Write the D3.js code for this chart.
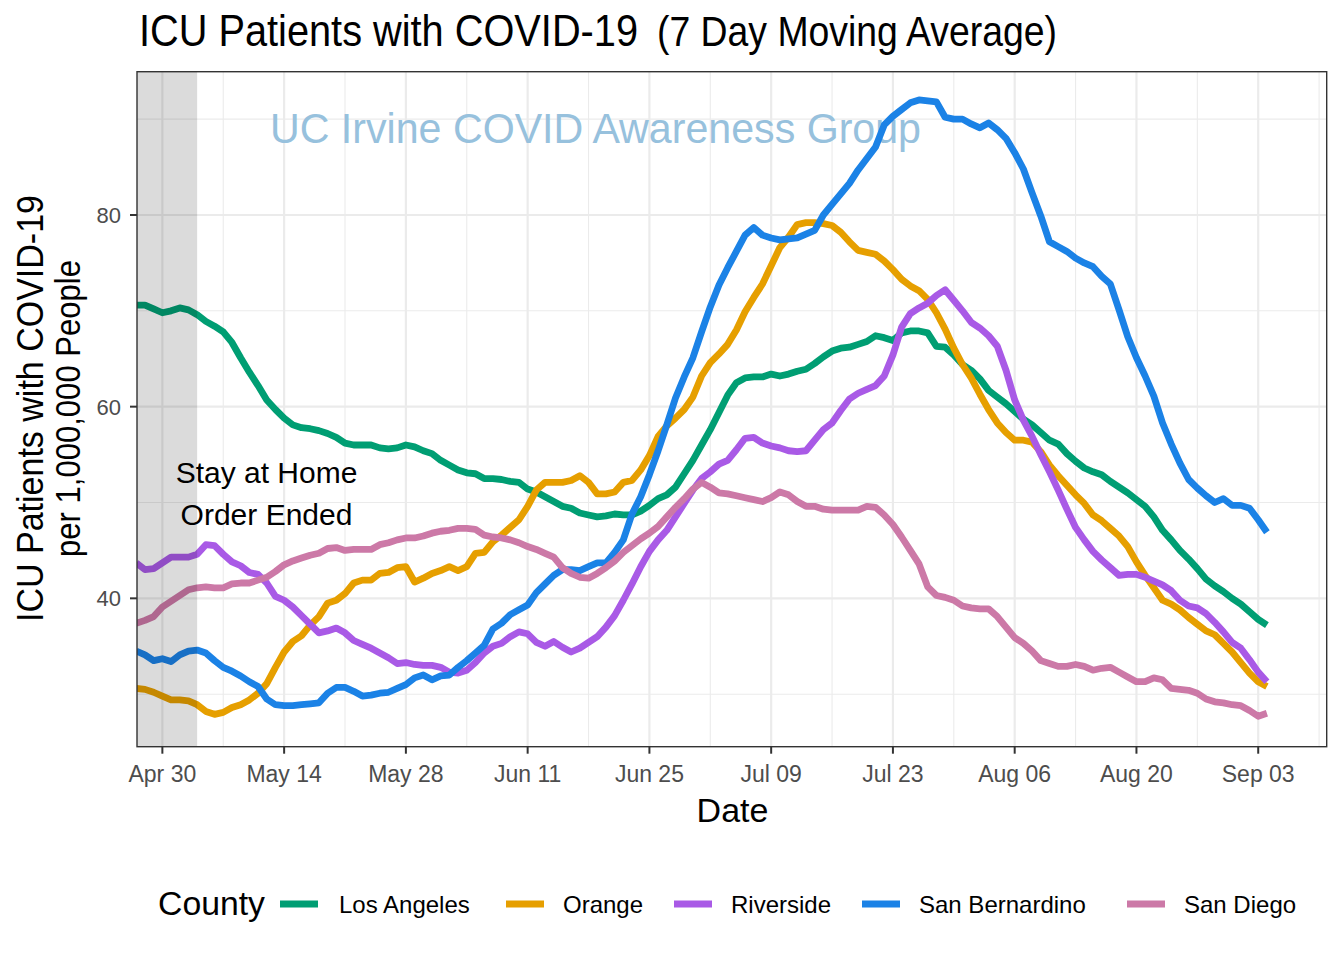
<!DOCTYPE html>
<html>
<head>
<meta charset="utf-8">
<script src="https://cdn.jsdelivr.net/npm/d3@7"></script>
<style>
  body { margin: 0; background: #fff; }
  text { font-family: "Liberation Sans", Arial, sans-serif; }
</style>
</head>
<body>
<div id="chart_wrapper"></div>
<script>

// first day of data, one value per day after that
const startDay = "2020-04-27"
const orderEnded = "2020-05-04"

const counties = ["Los Angeles", "Orange", "Riverside", "San Bernardino", "San Diego"]
const countyColors = ["#009E73", "#E69F00", "#A95AE6", "#1B82E6", "#CC79A7"]

const losAngeles = [70.6,70.6,70.2,69.8,70.0,70.3,70.1,69.6,68.9,68.4,67.8,66.7,65.1,63.6,62.2,60.7,59.7,58.8,58.1,57.8,
  57.7,57.5,57.2,56.8,56.2,56.0,56.0,56.0,55.7,55.6,55.7,56.0,55.8,55.4,55.1,54.4,53.9,53.4,53.1,53.0,
  52.5,52.5,52.4,52.2,52.1,51.4,51.1,50.6,50.1,49.6,49.4,48.9,48.7,48.5,48.6,48.8,48.7,48.7,49.1,49.7,
  50.4,50.8,51.6,53.0,54.4,56.0,57.6,59.4,61.2,62.5,63.0,63.1,63.1,63.4,63.2,63.4,63.7,63.9,64.5,65.2,
  65.8,66.1,66.2,66.5,66.8,67.4,67.2,66.9,67.7,67.9,67.9,67.7,66.3,66.2,65.4,64.4,63.8,62.9,61.7,61.0,
  60.3,59.5,58.7,58.1,57.3,56.5,56.1,55.1,54.3,53.6,53.2,52.9,52.2,51.6,51.0,50.3,49.6,48.5,47.1,46.1,
  45.0,44.1,43.1,42.0,41.3,40.7,40.0,39.4,38.6,37.8,37.2]

const orange = [30.6,30.5,30.2,29.8,29.4,29.4,29.3,28.9,28.2,27.9,28.1,28.6,28.9,29.4,30.1,31.1,32.8,34.4,35.5,36.1,
  37.2,38.1,39.5,39.8,40.5,41.6,41.9,41.9,42.6,42.7,43.2,43.3,41.7,42.1,42.6,42.9,43.3,42.9,43.3,44.7,
  44.8,45.9,46.6,47.4,48.2,49.6,51.3,52.1,52.1,52.1,52.3,52.8,52.1,50.9,50.9,51.1,52.1,52.3,53.4,54.9,
  56.9,58.0,58.8,59.7,61.0,63.2,64.6,65.5,66.5,68.0,69.9,71.4,72.8,74.7,76.6,77.7,79.0,79.2,79.2,79.1,
  78.9,78.2,77.2,76.3,76.1,75.9,75.2,74.3,73.3,72.6,72.1,71.2,69.8,68.1,66.1,64.4,63.0,61.3,59.7,58.3,
  57.3,56.5,56.5,56.3,55.3,53.9,52.8,51.8,50.8,49.9,48.7,48.1,47.3,46.5,45.4,43.8,42.4,41.1,39.8,39.4,
  38.8,38.0,37.3,36.6,36.2,35.3,34.4,33.3,32.2,31.3,30.8]

const riverside = [43.7,43.0,43.1,43.7,44.3,44.3,44.3,44.6,45.6,45.5,44.6,43.8,43.4,42.7,42.5,41.6,40.2,39.8,39.1,38.2,
  37.3,36.4,36.6,36.9,36.4,35.6,35.2,34.8,34.3,33.8,33.2,33.3,33.1,33.0,33.0,32.8,32.3,32.2,32.5,33.3,
  34.3,35.0,35.3,36.0,36.5,36.3,35.4,35.0,35.5,34.9,34.4,34.8,35.4,36.0,37.0,38.2,39.8,41.5,43.3,44.9,
  46.1,47.1,48.5,49.9,51.3,52.5,53.2,54.0,54.4,55.5,56.7,56.8,56.2,55.9,55.7,55.4,55.3,55.4,56.5,57.6,
  58.3,59.6,60.8,61.4,61.8,62.2,63.2,65.4,68.3,69.7,70.3,70.8,71.6,72.2,71.1,70.0,68.8,68.2,67.4,66.3,
  63.8,60.7,58.6,56.9,55.0,53.2,51.3,49.3,47.4,46.1,44.9,44.0,43.2,42.4,42.5,42.5,42.2,41.8,41.4,40.8,
  39.8,39.2,39.0,38.4,37.5,36.5,35.4,34.8,33.6,32.3,31.3]

const sanBernardino = [34.5,34.1,33.5,33.7,33.4,34.1,34.5,34.6,34.3,33.5,32.8,32.4,31.9,31.3,30.8,29.5,28.9,28.8,28.8,28.9,
  29.0,29.1,30.1,30.7,30.7,30.3,29.8,29.9,30.1,30.2,30.6,31.0,31.7,32.0,31.5,31.9,32.0,32.8,33.5,34.3,
  35.1,36.8,37.4,38.3,38.8,39.3,40.6,41.5,42.4,43.0,43.0,42.9,43.3,43.7,43.7,44.8,46.1,48.8,50.6,52.9,
  55.4,58.1,60.9,63.1,65.1,67.8,70.4,72.7,74.5,76.2,77.9,78.7,77.9,77.6,77.4,77.5,77.6,78.0,78.4,80.0,
  81.1,82.2,83.3,84.7,85.9,87.1,89.4,90.3,91.0,91.7,92.0,91.9,91.8,90.2,90.0,90.0,89.5,89.1,89.6,88.9,
  88.0,86.5,84.8,82.3,79.9,77.2,76.7,76.2,75.5,75.0,74.6,73.6,72.8,70.1,67.3,65.1,63.2,61.1,58.3,56.1,
  54.1,52.4,51.5,50.7,50.0,50.4,49.7,49.7,49.4,48.2,46.9]

const sanDiego = [37.4,37.7,38.1,39.1,39.7,40.3,40.9,41.1,41.2,41.1,41.1,41.5,41.6,41.6,41.9,42.2,42.8,43.5,43.9,44.2,
  44.5,44.7,45.2,45.3,45.0,45.1,45.1,45.1,45.6,45.8,46.1,46.3,46.3,46.5,46.8,47.0,47.1,47.3,47.3,47.2,
  46.6,46.4,46.3,46.1,45.8,45.4,45.1,44.7,44.3,43.2,42.6,42.2,42.1,42.6,43.2,43.9,44.8,45.5,46.2,46.8,
  47.5,48.5,49.5,50.4,51.4,52.1,51.6,51.0,50.9,50.7,50.5,50.3,50.1,50.5,51.1,50.8,50.1,49.6,49.6,49.3,
  49.2,49.2,49.2,49.2,49.6,49.5,48.7,47.7,46.4,45.0,43.6,41.2,40.3,40.1,39.8,39.2,39.0,38.9,38.9,38.1,
  37.0,35.9,35.3,34.5,33.5,33.2,32.9,32.9,33.1,32.9,32.5,32.7,32.8,32.3,31.8,31.3,31.3,31.7,31.5,30.6,
  30.5,30.4,30.1,29.5,29.2,29.1,28.9,28.8,28.3,27.7,28.0]

const seriesValues = [losAngeles, orange, riverside, sanBernardino, sanDiego]

const xTickDates = ["2020-04-30","2020-05-14","2020-05-28","2020-06-11","2020-06-25","2020-07-09","2020-07-23","2020-08-06","2020-08-20","2020-09-03"]
const xMinorDates = ["2020-05-07","2020-05-21","2020-06-04","2020-06-18","2020-07-02","2020-07-16","2020-07-30","2020-08-13","2020-08-27","2020-09-10"]
const yTicks = [40, 60, 80]
const yMinorTicks = [30, 50, 70, 90]

const parseDay = d3.utcParse("%Y-%m-%d")
const fmtDay = d3.utcFormat("%b %d")

const CANVAS = { width: 1344, height: 960 }
const PANEL = { left: 137, right: 1326.7, top: 71.7, bottom: 746.7 }

const svg = d3.select('#chart_wrapper').append('svg')
    .attr('width', CANVAS.width)
    .attr('height', CANVAS.height)

const start = parseDay(startDay)
const dates = seriesValues[0].map((v, i) => d3.utcDay.offset(start, i))

const x = d3.scaleUtc()
    .domain([d3.utcHour.offset(start, 2), d3.utcHour.offset(d3.utcDay.offset(start, 136), 21)])
    .range([PANEL.left, PANEL.right])

const y = d3.scaleLinear()
    .domain([24.52, 94.95])
    .range([PANEL.bottom, PANEL.top])

// panel background + grid
const grid = svg.append('g')
grid.selectAll('.ymin').data(yMinorTicks).join('line')
    .attr('x1', PANEL.left).attr('x2', PANEL.right)
    .attr('y1', d => y(d)).attr('y2', d => y(d))
    .attr('stroke', '#EBEBEB').attr('stroke-width', 1.1)
grid.selectAll('.xmin').data(xMinorDates).join('line')
    .attr('x1', d => x(parseDay(d))).attr('x2', d => x(parseDay(d)))
    .attr('y1', PANEL.top).attr('y2', PANEL.bottom)
    .attr('stroke', '#EBEBEB').attr('stroke-width', 1.1)
grid.selectAll('.ymaj').data(yTicks).join('line')
    .attr('x1', PANEL.left).attr('x2', PANEL.right)
    .attr('y1', d => y(d)).attr('y2', d => y(d))
    .attr('stroke', '#EBEBEB').attr('stroke-width', 2.2)
grid.selectAll('.xmaj').data(xTickDates).join('line')
    .attr('x1', d => x(parseDay(d))).attr('x2', d => x(parseDay(d)))
    .attr('y1', PANEL.top).attr('y2', PANEL.bottom)
    .attr('stroke', '#EBEBEB').attr('stroke-width', 2.2)

// watermark
svg.append('text')
    .attr('x', 270).attr('y', 143)
    .attr('textLength', 651).attr('lengthAdjust', 'spacingAndGlyphs')
    .style('font-size', '43px')
    .attr('fill', '#97C1DD')
    .text('UC Irvine COVID Awareness Group')

// lines
const clip = svg.append('clipPath').attr('id', 'panel_clip')
clip.append('rect').attr('x', PANEL.left).attr('y', PANEL.top)
    .attr('width', PANEL.right - PANEL.left).attr('height', PANEL.bottom - PANEL.top)

const line = d3.line()
    .x((d, i) => x(dates[i]))
    .y(d => y(d))

svg.append('g').attr('clip-path', 'url(#panel_clip)')
    .selectAll('path')
    .data(seriesValues)
    .join('path')
        .attr('d', d => line(d))
        .attr('fill', 'none')
        .attr('stroke', (d, i) => countyColors[i])
        .attr('stroke-width', 6.8)
        .attr('stroke-linejoin', 'round')

// shaded stay-at-home period
svg.append('rect')
    .attr('x', PANEL.left).attr('y', PANEL.top)
    .attr('width', x(parseDay(orderEnded)) - PANEL.left)
    .attr('height', PANEL.bottom - PANEL.top)
    .attr('fill', '#000').attr('fill-opacity', 0.14)

const note = svg.append('text')
    .attr('text-anchor', 'middle')
    .style('font-size', '30px')
    .attr('fill', '#000')
note.append('tspan').attr('x', 266.5).attr('y', 483).text('Stay at Home')
note.append('tspan').attr('x', 266.5).attr('y', 525).text('Order Ended')

// panel border
svg.append('rect')
    .attr('x', PANEL.left).attr('y', PANEL.top)
    .attr('width', PANEL.right - PANEL.left).attr('height', PANEL.bottom - PANEL.top)
    .attr('fill', 'none').attr('stroke', '#333333').attr('stroke-width', 1.4)

// axes
const xAxis = svg.append('g')
xAxis.selectAll('line').data(xTickDates).join('line')
    .attr('x1', d => x(parseDay(d))).attr('x2', d => x(parseDay(d)))
    .attr('y1', PANEL.bottom).attr('y2', PANEL.bottom + 7)
    .attr('stroke', '#333333').attr('stroke-width', 2)
xAxis.selectAll('text').data(xTickDates).join('text')
    .attr('x', d => x(parseDay(d))).attr('y', 782)
    .attr('text-anchor', 'middle')
    .style('font-size', '23px')
    .attr('fill', '#4D4D4D')
    .text(d => fmtDay(parseDay(d)))

const yAxis = svg.append('g')
yAxis.selectAll('line').data(yTicks).join('line')
    .attr('x1', PANEL.left - 7).attr('x2', PANEL.left)
    .attr('y1', d => y(d)).attr('y2', d => y(d))
    .attr('stroke', '#333333').attr('stroke-width', 2)
yAxis.selectAll('text').data(yTicks).join('text')
    .attr('x', 121).attr('y', d => y(d) + 8)
    .attr('text-anchor', 'end')
    .style('font-size', '22px')
    .attr('fill', '#4D4D4D')
    .text(d => d)

// titles
svg.append('text')
    .attr('x', 139).attr('y', 46)
    .attr('textLength', 499).attr('lengthAdjust', 'spacingAndGlyphs')
    .style('font-size', '44px')
    .text('ICU Patients with COVID-19')
svg.append('text')
    .attr('x', 657).attr('y', 46)
    .attr('textLength', 400).attr('lengthAdjust', 'spacingAndGlyphs')
    .style('font-size', '42px')
    .text('(7 Day Moving Average)')

svg.append('text')
    .attr('x', 732.5).attr('y', 822)
    .attr('text-anchor', 'middle')
    .style('font-size', '34px')
    .text('Date')

const yTitle = svg.append('g').attr('transform', 'translate(43,409) rotate(-90)')
yTitle.append('text')
    .attr('x', -213).attr('y', 0)
    .attr('textLength', 427).attr('lengthAdjust', 'spacingAndGlyphs')
    .style('font-size', '36px')
    .text('ICU Patients with COVID-19')
yTitle.append('text')
    .attr('x', -148).attr('y', 37)
    .attr('textLength', 297).attr('lengthAdjust', 'spacingAndGlyphs')
    .style('font-size', '35px')
    .text('per 1,000,000 People')

// legend
const legend = svg.append('g')
legend.append('text')
    .attr('x', 158).attr('y', 915)
    .attr('textLength', 107).attr('lengthAdjust', 'spacingAndGlyphs')
    .style('font-size', '33px')
    .text('County')

const keyX = [280, 506, 674, 862, 1127]
const labelX = [339, 563, 731, 919, 1184]
counties.forEach((c, i) => {
    legend.append('line')
        .attr('x1', keyX[i]).attr('x2', keyX[i] + 38)
        .attr('y1', 904).attr('y2', 904)
        .attr('stroke', countyColors[i]).attr('stroke-width', 7)
    legend.append('text')
        .attr('x', labelX[i]).attr('y', 913)
        .style('font-size', '24px')
        .text(c)
})

</script>
</body>
</html>
